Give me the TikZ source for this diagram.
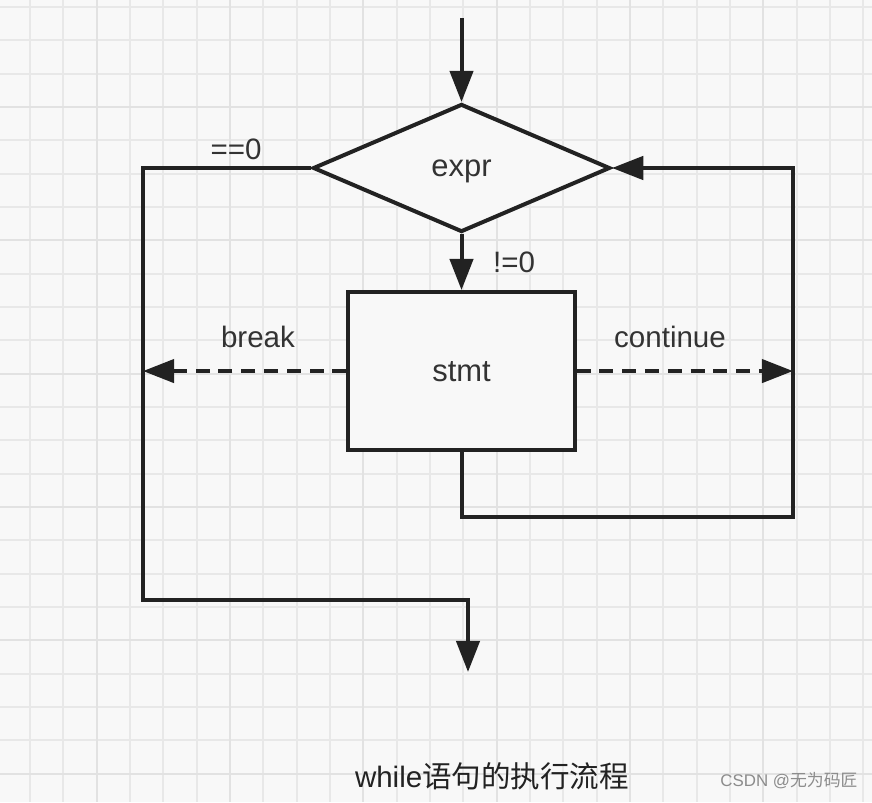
\documentclass[tikz,border=0pt]{standalone}
\usepackage{fontspec}
\setmainfont{Liberation Sans}
\newfontfamily\cjk{Noto Sans CJK SC}
\usetikzlibrary{shapes.geometric, arrows.meta, positioning}

\definecolor{paper}{HTML}{F8F8F8}
\definecolor{gridminor}{HTML}{E8E8E8}
\definecolor{gridmajor}{HTML}{E2E2E2}
\definecolor{ink}{HTML}{222222}
\definecolor{label}{HTML}{333333}
\definecolor{mark}{HTML}{8C8C8C}

\tikzstyle{decision} = [diamond, draw=ink, line width=0.1cm, fill=paper, minimum width=7.425cm, minimum height=3.2cm, inner sep=0pt, text depth=0pt, text=label, font=\fontsize{22}{26}\selectfont]
\tikzstyle{block} = [rectangle, draw=ink, line width=0.1cm, fill=paper, minimum width=5.65cm, minimum height=3.95cm, inner sep=0pt, text depth=0pt, text=label, font=\fontsize{22}{26}\selectfont]
\tikzstyle{flow} = [draw=ink, line width=0.1cm, -{Triangle[length=0.78cm, width=0.58cm]}]
\tikzstyle{jump} = [flow, dash pattern=on 0.35cm off 0.22cm]
\tikzstyle{tag} = [inner sep=0pt, text=label, font=\fontsize{21}{25}\selectfont]
\tikzstyle{gridline} = [draw=gridminor, line width=0.05cm]
\tikzstyle{gridbold} = [draw=gridmajor, line width=0.05cm]

\begin{document}
\begin{tikzpicture}[x=0.025cm, y=-0.025cm]
        \tikzset{node distance = 1.4cm and 1.5cm}
        \useasboundingbox (0,0) rectangle (872,802);
        % Squared paper
        \fill[paper] (0,0) rectangle (872,802);
        \foreach \k in {1,...,26}
            \draw[gridline] ({-3.33+33.33*\k},0) -- ++(0,802);
        \foreach \k in {0,...,23}
            \draw[gridline] (0,{7+33.33*\k}) -- ++(872,0);
        \foreach \k in {0,...,5} {
            \draw[gridbold] ({96.67+133.33*\k},0) -- ++(0,802);
            \draw[gridbold] (0,{107+133.33*\k}) -- ++(872,0);
        }

        % Condition and loop body
        \node (expr) at (461.5,168) [decision] {expr};
        \node (stmt) [below=of expr, block] {stmt};

        \coordinate (entry) at (461.5,18);
        \coordinate (leftrail) at (143,600);
        \coordinate (rightrail) at (793,517);
        \coordinate (exit) at (468,672);

        \draw[flow] (entry) -- (expr.north);
        \draw[flow] (expr.south) -- (stmt.north);
        \draw[flow] (expr.west) -| (leftrail) -| (exit);
        \draw[flow] (stmt.south) |- (rightrail) |- (expr.east);
        \draw[jump] (stmt.west) -- (stmt.west -| leftrail);
        \draw[jump] (stmt.east) -- (stmt.east -| rightrail);

        \node (eqzero) at (236,149) [tag] {==0};
        \node (nezero) at (514,262) [tag] {!=0};
        \node (brk) at (258,337) [tag] {break};
        \node (cont) at (670,337) [tag] {continue};

        % Caption and watermark
        \node (caption) at (492,776) [tag, text=ink, font=\fontsize{21}{25}\selectfont] {while{\cjk 语句的执行流程}};
        \node (stamp) at (789,781) [tag, text=mark, font=\fontsize{12}{14}\selectfont] {CSDN @{\cjk 无为码匠}};
\end{tikzpicture}
\end{document}
